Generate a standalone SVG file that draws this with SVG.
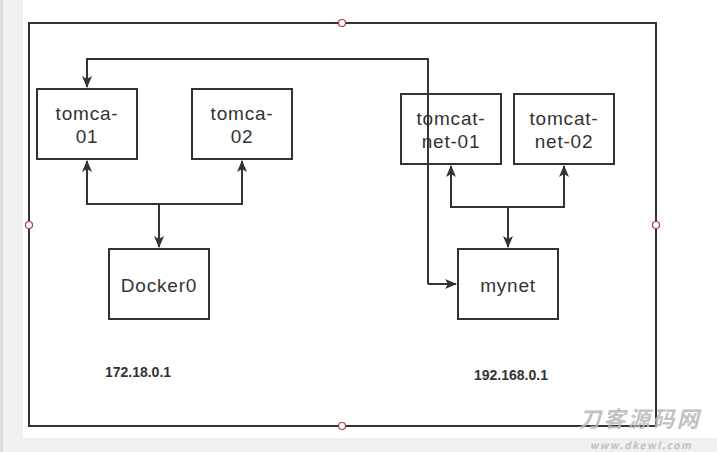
<svg xmlns="http://www.w3.org/2000/svg" width="717" height="452" viewBox="0 0 717 452">
<defs>
<style>
.box{fill:#fff;stroke:#333;stroke-width:2}
.lbl{font-family:"Liberation Sans",Arial,sans-serif;font-size:19px;fill:#333;text-anchor:middle;letter-spacing:0.8px}
.ip{font-family:"Liberation Sans",Arial,sans-serif;font-size:14px;font-weight:bold;fill:#333;text-anchor:middle}
.edge{fill:none;stroke:#333;stroke-width:2}
.handle{fill:#fff;stroke:#b03a3a;stroke-width:1.2}
.wm{font-family:"Noto Sans CJK SC","Liberation Sans",sans-serif;font-weight:bold;font-style:italic;fill:#b8b8b8;opacity:0.85}
</style>
<marker id="arr" viewBox="0 0 12 10" refX="11" refY="5" markerWidth="12" markerHeight="10" markerUnits="userSpaceOnUse" orient="auto">
<path d="M0,0 L12,5 L0,10 L3,5 Z" fill="#333"/>
</marker>
</defs>
<rect x="0" y="0" width="717" height="452" fill="#f0f0f0"/>
<rect x="0" y="0" width="3" height="452" fill="#dcdcdc"/>
<rect x="23" y="0" width="694" height="438" fill="#fff"/>
<rect x="29" y="23" width="627" height="403" fill="none" stroke="#333" stroke-width="2"/>
<g id="connectors">
<path class="edge" d="M159,204 V247" marker-end="url(#arr)"/>
<path class="edge" d="M159,204 H87 V161" marker-end="url(#arr)"/>
<path class="edge" d="M159,204 H242 V161" marker-end="url(#arr)"/>
<path class="edge" d="M508,207 V247" marker-end="url(#arr)"/>
<path class="edge" d="M508,207 H451 V166" marker-end="url(#arr)"/>
<path class="edge" d="M508,207 H564 V166" marker-end="url(#arr)"/>
<path class="edge" d="M428,284 V59 H87 V87" marker-end="url(#arr)"/>
<path class="edge" d="M428,284 H456" marker-end="url(#arr)"/>
</g>
<g id="tomca-01"><rect class="box" x="37" y="89" width="100" height="70"/><text class="lbl" x="87" y="120">tomca-</text><text class="lbl" x="87" y="143">01</text></g>
<g id="tomca-02"><rect class="box" x="192" y="89" width="100" height="70"/><text class="lbl" x="242" y="120">tomca-</text><text class="lbl" x="242" y="143">02</text></g>
<g id="tomcat-net-01"><rect class="box" x="401" y="94" width="100" height="70" fill-opacity="0"/><text class="lbl" x="451" y="125">tomcat-</text><text class="lbl" x="451" y="148">net-01</text></g>
<g id="tomcat-net-02"><rect class="box" x="514" y="94" width="100" height="70"/><text class="lbl" x="564" y="125">tomcat-</text><text class="lbl" x="564" y="148">net-02</text></g>
<g id="docker0"><rect class="box" x="109" y="249" width="100" height="70"/><text class="lbl" x="159" y="292">Docker0</text></g>
<g id="mynet"><rect class="box" x="458" y="249" width="100" height="70"/><text class="lbl" x="508" y="292">mynet</text></g>
<g id="ip1"><text class="ip" x="138" y="377">172.18.0.1</text></g>
<g id="ip2"><text class="ip" x="511" y="380">192.168.0.1</text></g>
<g id="handles">
<circle class="handle" cx="342" cy="23" r="3.5"/>
<circle class="handle" cx="29" cy="225" r="3.5"/>
<circle class="handle" cx="656" cy="225" r="3.5"/>
<circle class="handle" cx="342" cy="426" r="3.5"/>
</g>
<g id="watermark">
<text class="wm" x="640" y="427" font-size="22" text-anchor="middle" letter-spacing="2.5">刀客源码网</text>
<text class="wm" x="641" y="449" font-size="10" text-anchor="middle" font-family="Liberation Mono,monospace" letter-spacing="1.6">www.dkewl.com</text>
</g>
</svg>
